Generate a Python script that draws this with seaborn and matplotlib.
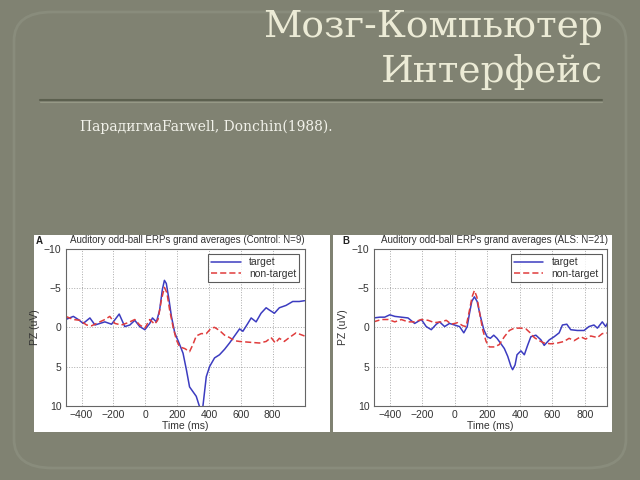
import numpy as np
import pandas as pd
import seaborn as sns
import matplotlib.pyplot as plt
from matplotlib.patches import Rectangle, FancyBboxPatch

# data (time in ms, PZ in uV)
a_target_t = [-500, -452, -421, -390, -348, -316, -285, -254, -212, -164, -129, -97, -66, -35, -3, 28, 45, 70,
              90, 107, 120, 132, 149, 164, 185, 212, 237, 258, 278, 299, 320, 345, 360, 383, 404, 435, 466,
              498, 529, 571, 592, 613, 644, 665, 696, 727, 759, 780, 811, 842, 884, 926, 967, 1000]
a_target_v = [-1.0, -1.4, -1.0, -0.5, -1.2, -0.3, -0.5, -0.7, -0.4, -1.7, -0.1, -0.3, -0.9, -0.1, 0.3, -0.5,
              -1.2, -0.7, -2.2, -4.8, -6.0, -5.6, -3.5, -1.4, 0.7, 2.0, 3.3, 5.4, 7.6, 8.2, 8.8, 10.4, 10.4,
              6.3, 5.0, 3.9, 3.5, 2.8, 2.0, 0.8, 0.2, 0.5, -0.5, -1.2, -0.7, -1.8, -2.5, -2.2, -1.8, -2.5,
              -2.8, -3.3, -3.3, -3.4]
a_nontarget_t = [-500, -452, -410, -369, -337, -296, -254, -223, -191, -150, -108, -66, -35, -3, 28, 59, 80,
                 101, 120, 136, 153, 174, 195, 216, 247, 278, 299, 320, 351, 383, 414, 435, 466, 498, 529,
                 560, 592, 654, 717, 759, 790, 817, 842, 873, 905, 947, 1000]
a_nontarget_v = [-1.4, -1.0, -0.9, -0.3, -0.2, -0.6, -1.0, -1.4, -0.5, -0.3, -0.6, -1.0, -0.3, 0.1, -1.0,
                 -0.4, -1.0, -3.5, -5.1, -4.4, -2.2, -0.1, 1.6, 2.5, 2.7, 3.1, 2.2, 1.1, 0.8, 0.8, 0.1, 0.0,
                 0.4, 1.0, 1.3, 1.7, 1.8, 1.9, 2.0, 1.8, 1.3, 2.0, 1.4, 1.8, 1.3, 0.7, 1.1]

b_target_t = [-500, -461, -431, -400, -369, -329, -288, -247, -206, -176, -145, -114, -94, -63, -33, -2, 29,
              55, 76, 90, 104, 120, 137, 157, 178, 198, 218, 239, 259, 280, 304, 325, 345, 355, 370, 382,
              406, 427, 447, 467, 498, 529, 549, 580, 610, 641, 661, 688, 712, 753, 794, 824, 855, 876,
              906, 927, 947]
b_target_v = [-1.2, -1.3, -1.3, -1.6, -1.4, -1.3, -1.2, -0.5, -1.0, -0.1, 0.3, -0.4, -0.7, -0.1, -0.5,
              -0.3, -0.1, 0.7, -0.1, -1.8, -3.3, -3.9, -3.3, -1.4, 0.3, 1.2, 1.4, 1.0, 1.4, 2.0, 2.7, 3.7,
              5.0, 5.4, 4.8, 3.5, 3.0, 3.5, 2.3, 1.2, 1.0, 1.6, 2.3, 1.6, 1.2, 0.7, -0.3, -0.4, 0.3, 0.4,
              0.4, -0.1, -0.3, 0.1, -0.7, -0.1, -0.9]
b_nontarget_t = [-500, -451, -410, -369, -329, -288, -247, -206, -165, -125, -84, -53, -22, 18, 49, 69, 90,
                 106, 120, 135, 151, 171, 192, 212, 243, 273, 304, 335, 365, 406, 437, 463, 488, 518, 549,
                 590, 631, 671, 702, 733, 773, 804, 835, 876, 906, 947]
b_nontarget_v = [-0.7, -1.0, -1.0, -0.7, -1.0, -0.7, -0.7, -1.0, -0.9, -0.6, -0.7, -0.9, -0.4, -0.6, -0.2,
                 -0.1, -2.2, -3.9, -4.7, -3.9, -2.0, 0.3, 1.8, 2.5, 2.5, 2.2, 1.2, 0.4, 0.1, 0.1, 0.2, 0.7,
                 1.3, 1.7, 2.0, 2.1, 2.0, 1.8, 1.4, 1.7, 1.2, 1.5, 1.1, 1.3, 0.8, 0.7]

x_ticks = [-400, -200, 0, 200, 400, 600, 800]
y_ticks = [-10, -5, 0, 5, 10]
panel_titles = ["Auditory odd-ball ERPs grand averages (Control: N=9)",
                "Auditory odd-ball ERPs grand averages (ALS: N=21)"]
panel_letters = ["A", "B"]

def make_df(tt, tv, nt, nv):
    d1 = pd.DataFrame({"Time": tt, "PZ": tv, "cond": "target"})
    d2 = pd.DataFrame({"Time": nt, "PZ": nv, "cond": "non-target"})
    return pd.concat([d1, d2], ignore_index=True)

dfs = [make_df(a_target_t, a_target_v, a_nontarget_t, a_nontarget_v),
       make_df(b_target_t, b_target_v, b_nontarget_t, b_nontarget_v)]

sns.set_theme(style="white")
plt.rcParams['font.family'] = ['Liberation Sans', 'DejaVu Sans']

bg = "#808272"
fig = plt.figure(figsize=(6.4, 4.8), dpi=100, facecolor=bg)

def px(x0, y0, x1, y1):
    # pixel box -> figure coords
    return [x0 / 640, 1 - y1 / 480, (x1 - x0) / 640, (y1 - y0) / 480]

# slide frame
frame = FancyBboxPatch((14 / 640, 12 / 480), 612 / 640, 456 / 480,
                       boxstyle="round,pad=0,rounding_size=0.06", transform=fig.transFigure,
                       facecolor="none", edgecolor="#898c7c", linewidth=2, zorder=-10)
fig.patches.append(frame)

# title
fig.text(603 / 640, 1 - 27 / 480, "Мозг-Компьютер", ha="right", va="center", fontsize=27,
         family="DejaVu Serif", color="#ecebd6")
fig.text(603 / 640, 1 - 72 / 480, "Интерфейс", ha="right", va="center", fontsize=27,
         family="DejaVu Serif", color="#ecebd6")
fig.add_artist(plt.Line2D([40 / 640, 602 / 640], [1 - 100 / 480, 1 - 100 / 480],
                          transform=fig.transFigure, color="#5c604f", linewidth=1.5))
fig.add_artist(plt.Line2D([40 / 640, 602 / 640], [1 - 101.5 / 480, 1 - 101.5 / 480],
                          transform=fig.transFigure, color="#969986", linewidth=0.8))
fig.text(80 / 640, 1 - 127 / 480, "ПарадигмаFarwell, Donchin(1988).", ha="left", va="center",
         fontsize=10, family="DejaVu Serif", color="#f2f2ea")

# white picture backgrounds
fig.patches.append(Rectangle((34 / 640, 1 - 432 / 480), (330 - 34) / 640, (432 - 235) / 480,
                             transform=fig.transFigure, facecolor="white", edgecolor="none", zorder=-5))
fig.patches.append(Rectangle((333 / 640, 1 - 432 / 480), (612 - 333) / 640, (432 - 235) / 480,
                             transform=fig.transFigure, facecolor="white", edgecolor="none", zorder=-5))

ax_boxes = [px(65.7, 249, 304.5, 405.7), px(373.5, 249, 607, 405.7)]
xlims = [(-500, 1000), (-500, 935)]
letter_x = [36, 342]
title_x = [187, 381]
tcol = "#333333"

for i in range(2):
    ax = fig.add_axes(ax_boxes[i])
    ax.set_facecolor("white")
    sns.lineplot(data=dfs[i], x="Time", y="PZ", hue="cond", style="cond",
                 palette={"target": "#3c3cc0", "non-target": "#e03c3c"},
                 dashes={"target": "", "non-target": (4, 2)},
                 linewidth=1.1, ax=ax)
    ax.set_xlim(xlims[i])
    ax.set_ylim(10, -10)
    ax.set_xticks(x_ticks)
    ax.set_yticks(y_ticks)
    ax.tick_params(direction="in", length=3, labelsize=7.5, colors=tcol, pad=3)
    ax.grid(True, linestyle=":", color="#aaaaaa", linewidth=0.7)
    for s in ax.spines.values():
        s.set_color("#666666")
        s.set_linewidth(0.8)
    ax.set_xlabel("Time (ms)", fontsize=7.5, color=tcol, labelpad=1)
    ax.set_ylabel("PZ (uV)", fontsize=7.5, color=tcol, labelpad=3)
    leg = ax.legend(loc="upper right", fontsize=7.5, frameon=True, fancybox=False, handlelength=2.8,
                    borderpad=0.3, labelspacing=0.15, borderaxespad=0.5, handletextpad=0.8)
    leg.get_frame().set_edgecolor("#333333")
    leg.get_frame().set_linewidth(0.8)
    for t in leg.get_texts():
        t.set_color(tcol)
    fig.text(letter_x[i] / 640, 1 - 241 / 480, panel_letters[i], fontsize=7, fontweight="bold",
             color="#222222", ha="left", va="center")
    fig.text(title_x[i] / 640, 1 - 240 / 480, panel_titles[i], fontsize=7, color=tcol,
             ha="center" if i == 0 else "left", va="center")

fig.savefig("out.png", dpi=100, facecolor=bg)
